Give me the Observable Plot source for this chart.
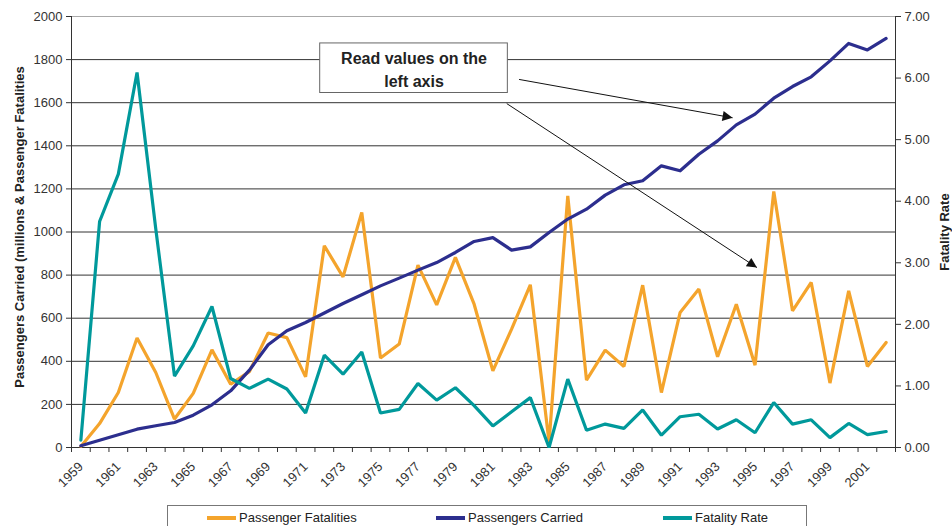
<!DOCTYPE html>
<html>
<head>
<meta charset="utf-8">
<script src="https://cdn.jsdelivr.net/npm/d3@7"></script>
<script src="https://cdn.jsdelivr.net/npm/@observablehq/plot@0.6"></script>
<style>
  body { margin: 0; background: white; font-family: "Liberation Sans", Arial, sans-serif; overflow: hidden; }
  #legend { position: absolute; left: 167px; top: 505px; width: 640px; height: 28px; border: 1px solid #777; box-sizing: border-box; font-size: 13px; color: #222; }
  .item { position: absolute; top: 4px; display: flex; align-items: center; }
  .sw { display: inline-block; width: 29px; height: 4px; margin-right: 3px; }
</style>
</head>
<body>
<div id="chart"></div>
<div id="legend"></div>
<script>
const years = d3.range(1959, 2003);
const passengerFatalities = [5, 111, 255, 508, 348, 132, 251, 453, 294, 352, 531, 510, 328, 936,
  792, 1091, 415, 480, 846, 662, 882, 665, 356, 549, 755, 25, 1168, 313, 452, 376,
  753, 255, 627, 735, 421, 665, 382, 1188, 634, 766, 299, 727, 376, 487];
const passengersCarried = [8, 34, 59, 85, 101, 116, 150, 198, 263, 359, 477, 542, 580, 624,
  668, 709, 750, 786, 823, 858, 905, 956, 974, 916, 931, 998, 1060, 1106, 1171, 1219,
  1238, 1307, 1284, 1361, 1423, 1497, 1547, 1621, 1675, 1720, 1794, 1875, 1845, 1898];
const fatalityRate = [0.12, 3.67, 4.44, 6.09, 3.55, 1.16, 1.65, 2.29, 1.12, 0.96, 1.11, 0.95, 0.56, 1.50,
  1.19, 1.55, 0.56, 0.62, 1.04, 0.77, 0.97, 0.68, 0.35, 0.58, 0.81, 0.0, 1.11, 0.28, 0.38, 0.31,
  0.61, 0.20, 0.50, 0.54, 0.30, 0.45, 0.24, 0.73, 0.38, 0.45, 0.16, 0.39, 0.21, 0.26];
const leftTicks = d3.range(0, 2001, 200);
const rightTicks = d3.range(0, 8);
const xLabelYears = d3.range(1959, 2002, 2);
const seriesNames = ["Passenger Fatalities", "Passengers Carried", "Fatality Rate"];
const seriesColors = ["#F4A42C", "#2C2E8E", "#00999B"];
const leftTitle = "Passengers Carried (millions & Passenger Fatalities";
const rightTitle = "Fatality Rate";
const noteLines = "Read values on the\nleft axis";
// annotation box and arrows in data units (year, left-axis value)
const noteBox = [{x1: 1971.78, x2: 1981.8, y1: 1645, y2: 1875}];
const noteArrows = [
  {x1: 1982.4, y1: 1708, x2: 1993.8, y2: 1530},
  {x1: 1981.74, y1: 1596, x2: 1995.1, y2: 835}
];

const RMAX = 7, LMAX = 2000;
const rows = years.map((y, i) => ({year: y, fat: passengerFatalities[i], car: passengersCarried[i], rate: fatalityRate[i]}));
const boundaries = d3.range(1958.5, 2003, 1);

const chart = Plot.plot({
  width: 952,
  height: 500,
  marginLeft: 71,
  marginRight: 57,
  marginTop: 16,
  marginBottom: 53,
  style: {fontFamily: "'Liberation Sans', Arial, sans-serif", fontSize: "13px", color: "#333", background: "white", overflow: "visible"},
  x: {type: "linear", domain: [1958.5, 2002.5], axis: null},
  y: {domain: [0, LMAX], axis: null},
  marks: [
    Plot.ruleY(leftTicks.filter(d => d > 0 && d < LMAX), {stroke: "#333", strokeWidth: 1}),
    Plot.ruleY([LMAX], {stroke: "#aaa", strokeWidth: 1}),
    Plot.ruleY([0], {stroke: "#333", strokeWidth: 1}),
    Plot.ruleX([1958.5, 2002.5], {stroke: "#333", strokeWidth: 1}),
    Plot.axisY({ticks: leftTicks, tickFormat: d => String(d), tickSize: 5, tickPadding: 4, label: null, fontSize: 13, anchor: "left"}),
    Plot.axisY({ticks: rightTicks.map(k => k * LMAX / RMAX), tickFormat: d => (d * RMAX / LMAX).toFixed(2), tickSize: 5, tickPadding: 4, label: null, fontSize: 13, anchor: "right"}),
    Plot.axisX({ticks: boundaries, tickFormat: () => "", tickSize: 5, label: null}),
    Plot.axisX({ticks: xLabelYears, tickFormat: d => String(d), tickSize: 0, tickPadding: 17, tickRotate: -45, label: null, fontSize: 13}),
    Plot.text([leftTitle], {text: d => d, frameAnchor: "left", textAnchor: "middle", dx: -52, dy: -5, rotate: -90, fontWeight: "bold", fontSize: 13, fill: "#222"}),
    Plot.text([rightTitle], {text: d => d, frameAnchor: "right", textAnchor: "middle", dx: 49, rotate: -90, fontWeight: "bold", fontSize: 13, fill: "#222"}),
    Plot.line(rows, {x: "year", y: "fat", stroke: seriesColors[0], strokeWidth: 3.2, strokeLinejoin: "miter"}),
    Plot.line(rows, {x: "year", y: "car", stroke: seriesColors[1], strokeWidth: 3.2}),
    Plot.line(rows, {x: "year", y: d => d.rate * LMAX / RMAX, stroke: seriesColors[2], strokeWidth: 3.2, strokeLinejoin: "miter"}),
    Plot.link(noteArrows, {x1: "x1", y1: "y1", x2: "x2", y2: "y2", stroke: "#111", strokeWidth: 1, className: "note-arrow"}),
    Plot.rect(noteBox, {x1: "x1", x2: "x2", y1: "y1", y2: "y2", fill: "white", stroke: "#666", strokeWidth: 1}),
    Plot.text([noteLines], {text: d => d, x: (noteBox[0].x1 + noteBox[0].x2) / 2, y: (noteBox[0].y1 + noteBox[0].y2) / 2, fontSize: 16, fontWeight: "bold", fill: "#222", lineHeight: 1.45})
  ]
});
document.getElementById("chart").appendChild(chart);

// filled arrowheads for the annotation links
const svg = d3.select(chart);
const defs = svg.insert("defs", ":first-child");
defs.append("marker").attr("id", "ahead").attr("viewBox", "0 0 10 10").attr("refX", 10).attr("refY", 5)
  .attr("markerWidth", 14).attr("markerHeight", 10).attr("markerUnits", "userSpaceOnUse").attr("orient", "auto")
  .append("path").attr("d", "M0,0L10,5L0,10Z").attr("fill", "#111");
svg.selectAll(".note-arrow path").attr("marker-end", "url(#ahead)");

// legend
const legend = document.getElementById("legend");
const lefts = [207, 436, 663].map(v => v - 168);
seriesNames.forEach((n, i) => {
  const it = document.createElement("div");
  it.className = "item";
  it.style.left = lefts[i] + "px";
  it.innerHTML = `<span class="sw" style="background:${seriesColors[i]}"></span><span>${n}</span>`;
  legend.appendChild(it);
});
</script>
</body>
</html>
